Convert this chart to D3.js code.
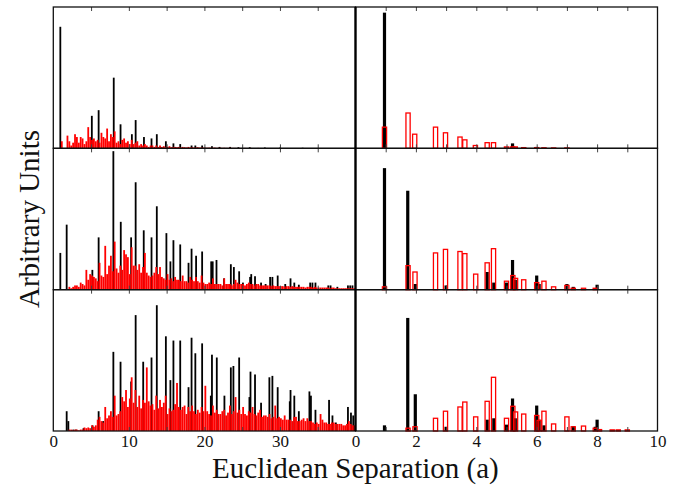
<!DOCTYPE html>
<html>
<head>
<meta charset="utf-8">
<script src="https://cdn.jsdelivr.net/npm/d3@7"></script>
<style>
body { margin: 0; background: #fff; }
svg { display: block; }
text { font-family: "Liberation Serif", "DejaVu Serif", serif; fill: #111; }
</style>
</head>
<body>
<div id="chart"></div>
<script>
// heights are in % of panel height (arbitrary units)
// red series on the left column: one value every 0.25 (a), starting at 0
const redStep = 0.25;

const redTopLeft = [
    0, 0, 0, 0, 5, 0, 0, 9, 5, 2, 4, 10, 8, 4, 8, 7, 3, 5, 15, 8,
    6, 7, 5, 6, 4, 11, 8, 7, 14, 5, 10, 8, 12, 4, 5, 3, 6, 7, 4, 5,
    3, 6, 3, 4, 5, 2, 3, 2, 3, 2, 1, 2, 2, 1, 2, 1, 2, 1, 1.5, 1,
    1, 1.5, 0.8, 1, 1, 0.8, 1, 0.6, 1, 0.8, 0.6, 1, 0.6, 0.8, 0.5, 0.6, 0.8, 0.5, 0.6, 0.5,
    0.5, 0.4, 0.5, 0.4, 0.4, 0.5, 0.3, 0.4, 0.4, 0.3, 0.4, 0.3, 0.3, 0.4, 0.3, 0.3, 0.3, 0.2, 0.3, 0.2,
    0.2, 0.3, 0.2, 0.2, 0.3, 0.2, 0.2, 0.2, 0.3, 0.2, 0.2, 0.2, 0.2, 0.2, 0.2, 0.2, 0.2, 0.2, 0.2, 0.2,
    0.2, 0.2, 0.2, 0.2, 0.2, 0.2, 0.2, 0.2, 0, 0, 0, 0, 0, 0, 0, 0, 0, 0, 0, 0,
    0, 0, 0, 0, 0, 0, 0, 0, 0, 0, 0, 0, 0, 0, 0, 0, 0, 0, 0, 0
];

const redMidLeft = [
    0, 0, 0, 0, 0, 0, 0, 0, 2, 1, 2, 3, 3, 2, 5, 4, 3, 14, 7, 11,
    10, 9, 8, 6, 19, 10, 9, 31, 11, 17, 24, 13, 34, 15, 12, 17, 14, 28, 25, 23,
    11, 30, 17, 17, 14, 18, 12, 16, 26, 12, 10, 9, 10, 12, 16, 11, 16, 9, 8, 7,
    11, 7, 8, 6, 9, 7, 7, 6, 10, 6, 6, 5, 9, 7, 6, 9, 6, 5, 10, 5,
    4, 4, 5, 4, 8, 4, 4, 4, 4, 3, 8, 4, 4, 4, 3, 4, 7, 5, 4, 4,
    4, 3, 4, 5, 4, 4, 3, 4, 4, 3, 3, 3, 3, 3, 3, 2.5, 3, 2.5, 2.5, 2.5,
    2.5, 2.5, 2, 2.5, 2.5, 2, 2.5, 2, 2, 2, 2, 2, 2, 1.5, 2, 2, 2, 1.5, 2, 1.5,
    1.5, 1.5, 1.5, 1.5, 1.5, 1.5, 1, 1.5, 1.5, 1, 1, 1, 1, 1, 1, 1, 1, 1, 1, 1
];

const redBotLeft = [
    0, 0, 0, 0, 0, 0, 0, 0, 1, 1, 0.5, 1, 1, 0.5, 1, 1, 2.5, 2, 2.5, 2,
    4, 3, 4, 8, 10, 7, 6, 17, 9, 11, 14, 10, 25, 11, 12, 14, 24, 21, 29, 17,
    23, 38, 20, 29, 17, 25, 16, 22, 20, 45, 21, 18, 19, 15, 25, 16, 22, 17, 20, 25,
    12, 16, 14, 15, 19, 34, 17, 15, 17, 18, 12, 17, 14, 18, 14, 12, 15, 13, 17, 14,
    32, 14, 12, 11, 18, 13, 15, 12, 12, 14, 15, 11, 13, 18, 12, 14, 24, 13, 15, 12,
    17, 12, 11, 14, 13, 17, 12, 11, 13, 15, 10, 11, 11, 10, 12, 9, 10, 18, 9, 10,
    9, 8, 11, 8, 8, 8, 7, 10, 10, 7, 7, 8, 9, 7, 9, 7, 7, 6, 5, 6,
    5, 12, 8, 6, 6, 5, 5, 6, 6, 5, 5, 5, 5, 4, 4, 5, 7, 5, 4, 4
];

// black series on the left column: [separation, height]
const blackTopLeft = [
    [0.93, 86], [5.1, 23], [6, 27], [8, 50], [8.9, 17], [10.4, 10], [10.9, 20], [12, 8],
    [13, 7], [13.7, 10], [14.9, 5], [15.9, 3.5], [16.8, 3], [18.3, 2], [18.8, 2], [19.7, 2],
    [21, 1.5], [22, 1], [23.4, 1], [24.5, 0.8], [26, 0.8], [28, 0.6], [30, 0.5], [33, 0.4]
];

const blackMidLeft = [
    [0.93, 26], [1.77, 46], [5.17, 14], [6, 37], [7.95, 98], [8.93, 48], [10.3, 37], [10.9, 76],
    [11.97, 42], [13, 37], [13.7, 59], [14.97, 40], [15.5, 20], [15.9, 35], [16.8, 32], [17.9, 19],
    [18.3, 29], [18.9, 24], [19.7, 27], [20.9, 20], [21.1, 20], [21.6, 21], [22.6, 8], [23.5, 18],
    [23.9, 16], [24.6, 13], [25.1, 5], [26.05, 9], [26.2, 11], [26.7, 9.5], [27.5, 5], [28.1, 4],
    [28.7, 9], [29.0, 9], [29.7, 10], [30.7, 4], [31.4, 8], [31.9, 5], [32.5, 3.5], [34.0, 5],
    [34.3, 5], [34.7, 5], [36.4, 3], [36.7, 3], [37.6, 2], [39, 3], [39.3, 3], [39.6, 3]
];

const blackBotLeft = [
    [1.77, 14], [1.99, 7], [2.65, 1], [3, 1], [4, 2], [5.2, 4], [6, 14], [6.6, 7],
    [7.95, 56], [8.9, 49], [10.3, 35], [10.9, 82], [11.9, 49], [13, 52], [13.7, 89], [14.9, 67],
    [15.5, 36], [15.9, 64], [16.8, 64], [17.9, 31], [18.3, 66], [18.8, 55], [19.7, 62], [20.85, 25],
    [21.0, 54], [21.64, 52], [22.65, 25], [23.5, 45], [23.84, 46], [24.6, 52], [25.96, 24], [26.1, 42],
    [26.7, 40], [27.5, 20], [28.6, 38], [29.0, 39], [29.7, 31], [31.3, 21], [31.4, 29], [31.9, 25],
    [32.5, 14], [33.9, 28], [34.1, 25], [34.7, 15], [36.5, 22], [36.95, 11], [37.4, 6], [39.0, 17],
    [39.4, 13], [39.7, 11]
];

// right column: [separation, height]
const blackTopRight = [[0.96, 96], [5.2, 3.5], [6, 1]];
const redTopRight = [
    [0.96, 15], [1.74, 25], [1.96, 10], [2.65, 15], [2.98, 11], [3.46, 8], [3.62, 6], [3.97, 2],
    [4.36, 4], [4.57, 4], [5, 1], [5.2, 1], [5.29, 1], [5.57, 0.5], [6, 0.5], [6.24, 0.4],
    [6.56, 0.3], [7, 0.3]
];

const blackMidRight = [
    [0.96, 86], [1.73, 70], [1.98, 4], [3, 3], [4.36, 12.5], [4.58, 5], [5, 5], [5.2, 21],
    [5.29, 7], [6, 10], [6.08, 4], [7, 4], [7.21, 2], [7.94, 1], [8, 3.5]
];
const redMidRight = [
    [0.96, 2], [1.74, 17], [1.97, 12.5], [2.65, 26], [2.98, 28.5], [3.46, 27], [3.62, 25.5], [3.98, 11],
    [4.36, 19], [4.57, 29], [5, 6], [5.21, 10], [5.3, 8], [5.57, 7], [6, 5], [6.24, 6],
    [6.56, 2], [7, 3], [7.21, 1], [7.55, 1], [7.94, 1]
];

const blackBotRight = [
    [0.96, 4], [1.73, 80], [1.98, 26], [3, 3], [4.36, 8], [4.58, 9], [5, 4.5], [5.2, 23],
    [5.29, 9], [6, 18], [6.08, 8], [6.24, 4], [7.21, 3.5], [7.94, 3], [8, 8]
];
const redBotRight = [
    [1.74, 2], [1.97, 3], [2.65, 9], [2.98, 14], [3.46, 17], [3.62, 20.5], [3.98, 10], [4.36, 21],
    [4.57, 38], [5, 9], [5.21, 17.5], [5.3, 13.5], [5.57, 12], [6, 11], [6.08, 7.5], [6.24, 14],
    [6.56, 5], [7, 10], [7.21, 3], [7.55, 3.5], [7.94, 2], [8.08, 1], [8.5, 0.8], [8.7, 0.8], [9, 0.8]
];

const leftTickLabels = [0, 10, 20, 30];
const rightTickLabels = [0, 2, 4, 6, 8, 10];

const width = 682, height = 489;
const frame = { left: 53.3, mid: 355.5, right: 657.5, top: 7, bottom: 431 };
const rowH = (frame.bottom - frame.top) / 3;

const svg = d3.select("#chart")
    .append("svg")
    .attr("width", width)
    .attr("height", height);

const xLeft = d3.scaleLinear().domain([0, 40]).range([frame.left, frame.mid]);
const xRight = d3.scaleLinear().domain([0, 10]).range([frame.mid, frame.right]);

const panels = [
    { row: 0, x: xLeft, black: blackTopLeft, redGrid: redTopLeft },
    { row: 1, x: xLeft, black: blackMidLeft, redGrid: redMidLeft },
    { row: 2, x: xLeft, black: blackBotLeft, redGrid: redBotLeft },
    { row: 0, x: xRight, black: blackTopRight, redBars: redTopRight },
    { row: 1, x: xRight, black: blackMidRight, redBars: redMidRight },
    { row: 2, x: xRight, black: blackBotRight, redBars: redBotRight }
];

panels.forEach(p => {
    const y0 = frame.top + p.row * rowH;
    const y = d3.scaleLinear().domain([0, 100]).range([y0 + rowH, y0]);
    const g = svg.append("g");
    const isLeft = p.x === xLeft;
    const bw = isLeft ? 1.8 : 3.2;

    g.selectAll("rect.black")
        .data(p.black)
        .enter().append("rect")
        .attr("class", "black")
        .attr("x", d => p.x(d[0]) - bw / 2)
        .attr("y", d => y(d[1]))
        .attr("width", bw)
        .attr("height", d => y(0) - y(d[1]))
        .attr("fill", "#000");

    if (p.redGrid) {
        const rw = 1.8;
        g.selectAll("rect.red")
            .data(p.redGrid.map((v, i) => [i * redStep + redStep / 2, v]).filter(d => d[1] > 0))
            .enter().append("rect")
            .attr("class", "red")
            .attr("x", d => p.x(d[0]) - rw / 2)
            .attr("y", d => y(d[1]))
            .attr("width", rw)
            .attr("height", d => y(0) - y(d[1]))
            .attr("fill", "#ff0000");
    } else {
        const rw = 4.2;
        g.selectAll("rect.red")
            .data(p.redBars)
            .enter().append("rect")
            .attr("class", "red")
            .attr("x", d => p.x(d[0]) - rw / 2)
            .attr("y", d => y(d[1]))
            .attr("width", rw)
            .attr("height", d => y(0) - y(d[1]))
            .attr("fill", "none")
            .attr("stroke", "#ff0000")
            .attr("stroke-width", 1.3);
    }

    // inward ticks on top and bottom edges
    const tickVals = isLeft ? d3.range(5, 40, 5) : d3.range(1, 10, 1);
    const topAxis = d3.axisTop(p.x).tickValues(tickVals).tickSize(-4).tickFormat("");
    const botAxis = d3.axisBottom(p.x).tickValues(tickVals).tickSize(-4).tickFormat("");
    [[y0, topAxis], [y0 + rowH, botAxis]].forEach(([ty, ax]) => {
        const a = g.append("g").attr("transform", `translate(0,${ty})`).call(ax);
        a.select(".domain").remove();
        a.selectAll("line").attr("stroke", "#444").attr("stroke-width", 1);
    });

    g.append("rect")
        .attr("x", p.x.range()[0])
        .attr("y", y0)
        .attr("width", p.x.range()[1] - p.x.range()[0])
        .attr("height", rowH)
        .attr("fill", "none")
        .attr("stroke", "#111")
        .attr("stroke-width", 1.3);
});

// thicker divider between the two columns
svg.append("line")
    .attr("x1", frame.mid).attr("x2", frame.mid)
    .attr("y1", frame.top).attr("y2", frame.bottom)
    .attr("stroke", "#000")
    .attr("stroke-width", 2.2);

// bottom tick labels
[[xLeft, leftTickLabels], [xRight, rightTickLabels]].forEach(([sc, vals]) => {
    const a = svg.append("g")
        .attr("transform", `translate(0,${frame.bottom})`)
        .call(d3.axisBottom(sc).tickValues(vals).tickSize(0).tickPadding(4).tickFormat(d3.format("d")));
    a.select(".domain").remove();
    a.selectAll("text")
        .style("font-family", '"Liberation Serif", serif')
        .style("font-size", "17px")
        .attr("fill", "#111");
});

svg.append("text")
    .attr("x", (frame.left + frame.right) / 2)
    .attr("y", 478)
    .attr("text-anchor", "middle")
    .style("font-size", "29px")
    .text("Euclidean Separation (a)");

svg.append("text")
    .attr("transform", `translate(39,${(frame.top + frame.bottom) / 2}) rotate(-90)`)
    .attr("text-anchor", "middle")
    .style("font-size", "29px")
    .text("Arbitrary Units");
</script>
</body>
</html>
